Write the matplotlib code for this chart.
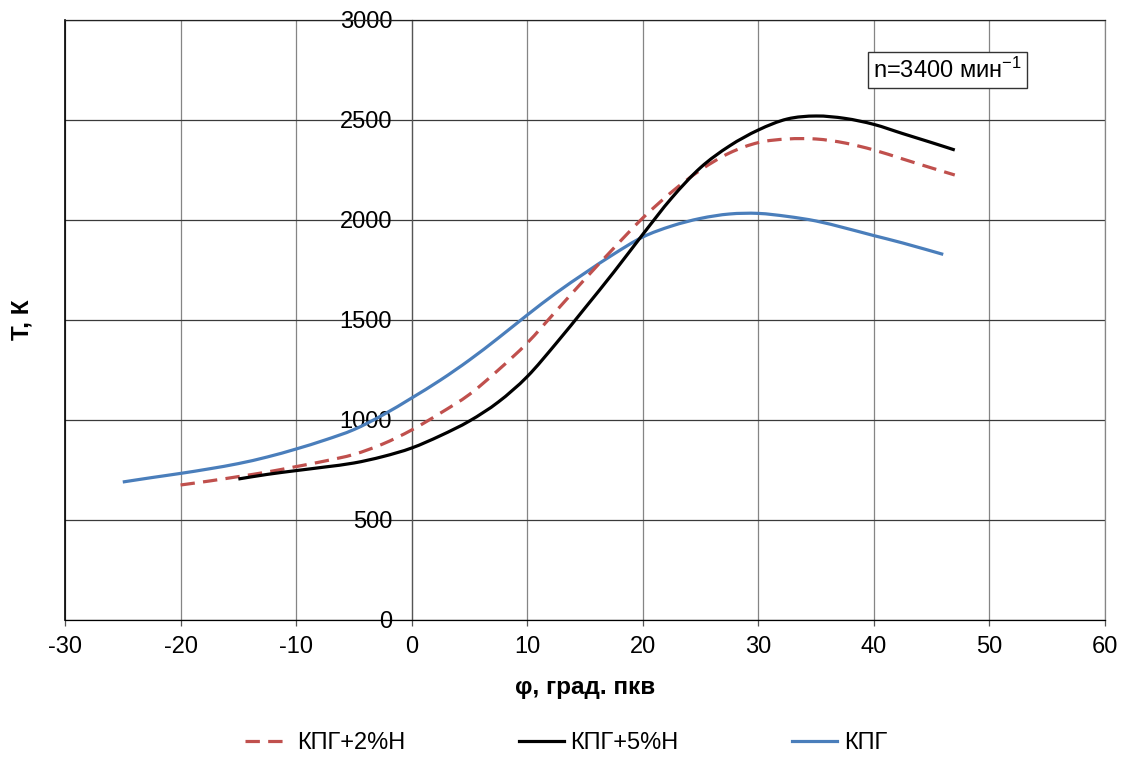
import matplotlib
matplotlib.use('Agg')
import matplotlib.pyplot as plt
import numpy as np
from matplotlib.path import Path
from matplotlib.patches import PathPatch
from matplotlib.lines import Line2D

plt.rcParams['font.family'] = ['Liberation Sans', 'DejaVu Sans']
plt.rcParams['mathtext.fontset'] = 'custom'
plt.rcParams['mathtext.rm'] = 'Liberation Sans'
plt.rcParams['mathtext.default'] = 'regular'
plt.rcParams['axes.unicode_minus'] = False

# угол поворота коленвала, град. ПКВ, и температура, К
phi_kpg = [-25, -22.5, -20, -17.5, -15, -12.5, -10, -7.5, -5, -2.5, 0, 2.5, 5, 7.5,
           10, 12.5, 15, 17.5, 20, 22.5, 25, 27.5, 30, 32.5, 35, 37.5, 40, 42.5, 46]
t_kpg = [690, 712, 733, 756, 782, 815, 855, 900, 952, 1025, 1110, 1200, 1300, 1410,
         1525, 1635, 1735, 1830, 1915, 1970, 2008, 2030, 2033, 2018, 1995, 1960, 1922, 1885, 1828]

phi_h2 = [-20, -17.5, -15, -12.5, -10, -7.5, -5, -2.5, 0, 2.5, 5, 7.5, 10, 12.5,
          15, 17.5, 20, 22.5, 25, 27.5, 30, 32.5, 35, 37.5, 40, 42.5, 45, 47]
t_h2 = [675, 695, 717, 740, 767, 795, 828, 880, 950, 1035, 1128, 1250, 1385, 1545,
        1705, 1860, 2010, 2140, 2250, 2335, 2387, 2405, 2405, 2385, 2350, 2305, 2260, 2225]

phi_h5 = [-15, -12.5, -10, -7.5, -5, -2.5, 0, 2.5, 5, 7.5, 10, 12.5, 15, 17.5,
          20, 22.5, 25, 27.5, 30, 32.5, 35, 37.5, 40, 42.5, 45, 47]
t_h5 = [705, 728, 747, 765, 785, 817, 860, 922, 995, 1090, 1217, 1383, 1560, 1740,
        1928, 2110, 2262, 2370, 2450, 2505, 2520, 2508, 2478, 2432, 2387, 2350]

labels = ['КПГ+2%Н', 'КПГ+5%Н', 'КПГ']


def smooth_path(x, y):
    # сглаженная линия: кубические кривые Безье через точки (как в Excel)
    p = np.column_stack([x, y]).astype(float)
    ext = np.vstack([p[0], p, p[-1]])
    verts = [p[0]]
    codes = [Path.MOVETO]
    for i in range(len(p) - 1):
        p0, p1, p2, p3 = ext[i], ext[i + 1], ext[i + 2], ext[i + 3]
        verts += [p1 + (p2 - p0) / 6, p2 - (p3 - p1) / 6, p2]
        codes += [Path.CURVE4] * 3
    return Path(verts, codes)


def add_curve(ax, x, y, color, ls='-', z=3):
    patch = PathPatch(smooth_path(x, y), fill=False, edgecolor=color, lw=2.3,
                      linestyle=ls, capstyle='butt', joinstyle='round', zorder=z)
    ax.add_patch(patch)
    return Line2D([], [], color=color, lw=2.3, linestyle=ls)


fig = plt.figure(figsize=(11.28, 7.58), dpi=100)
ax = fig.add_axes([65 / 1128, 138 / 758, 1040 / 1128, 600 / 758])

dash = (0, (4.5, 2.6))
h2 = add_curve(ax, phi_h2, t_h2, '#C0504D', ls=dash, z=4)
h5 = add_curve(ax, phi_h5, t_h5, 'black', z=5)
h0 = add_curve(ax, phi_kpg, t_kpg, '#4A7EBB', z=3)

ax.set_xlim(-30, 60)
ax.set_ylim(0, 3000)
ax.set_xticks(np.arange(-30, 61, 10))
ax.set_yticks(np.arange(0, 3001, 500))

ax.xaxis.grid(True, color='#858585', lw=0.9)
ax.yaxis.grid(True, color='#3a3a3a', lw=0.9)
ax.set_axisbelow(True)

ax.spines['left'].set_position(('data', 0))
ax.spines['left'].set_color('#555555')
ax.spines['top'].set_color('#222222')
ax.spines['right'].set_color('#858585')
ax.spines['bottom'].set_color('black')
for s in ax.spines.values():
    s.set_linewidth(0.9)
ax.axvline(-30, color='black', lw=1.2, clip_on=False, zorder=1)

ax.tick_params(axis='x', direction='out', length=4.5, width=0.9, pad=7,
               labelsize=17, colors='#555555', labelcolor='black')
ax.tick_params(axis='y', direction='out', length=0, pad=14, labelsize=17)

ax.set_xlabel('φ, град. пкв', fontsize=17.5, fontweight='bold', labelpad=13)
fig.text(22 / 1128, 1 - 320 / 758, 'T, К', rotation=90, fontsize=17.5,
         fontweight='bold', ha='center', va='center')

ax.text(46.4, 2750, 'n=3400 мин$^{-1}$', fontsize=17, ha='center', va='center',
        bbox=dict(boxstyle='square,pad=0.22', fc='white', ec='#333333', lw=1), zorder=6)

fig.legend([h2, h5, h0], labels, loc='center', bbox_to_anchor=(0.502, 1 - 743 / 758),
           ncol=3, frameon=False, fontsize=17, handlelength=1.9,
           handletextpad=0.3, columnspacing=4.8)

fig.savefig('out.png', dpi=100)
